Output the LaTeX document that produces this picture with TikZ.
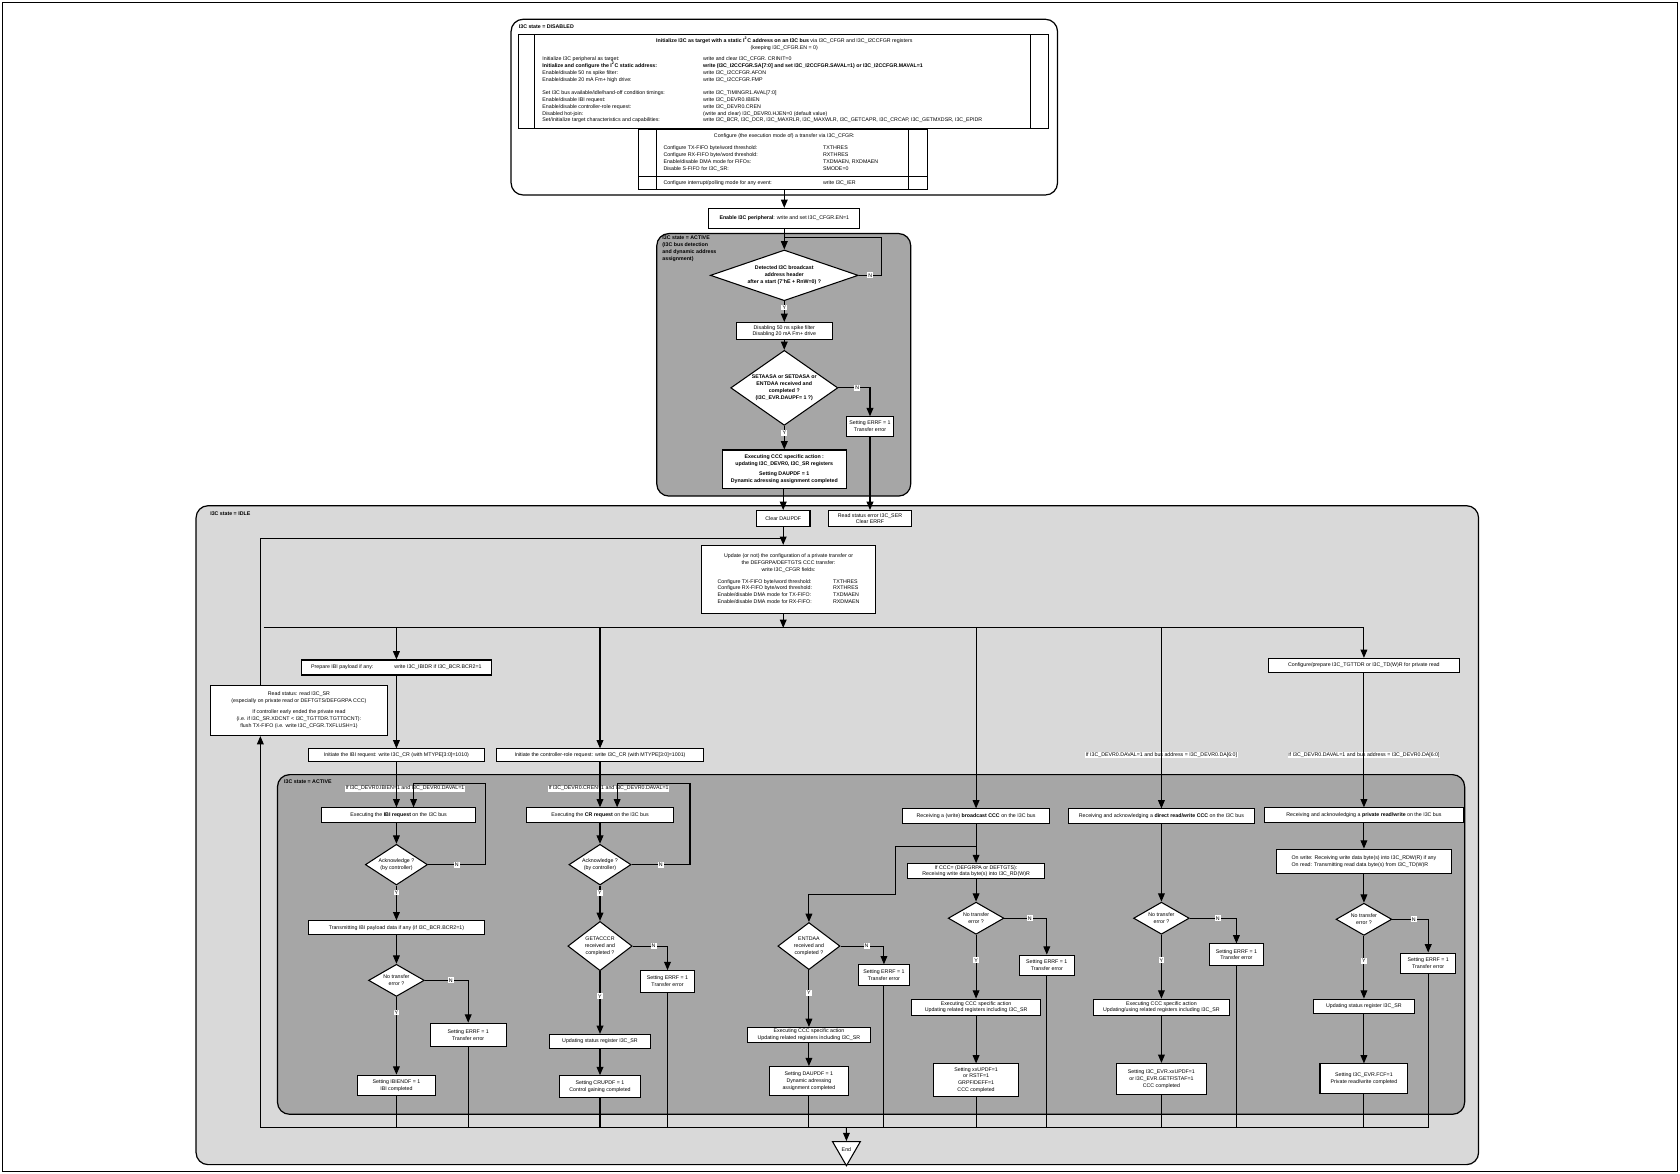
\documentclass[tikz,border=0pt]{standalone}
\usepackage{fontspec}
\setmainfont{Liberation Sans}
\usetikzlibrary{arrows.meta}
\usetikzlibrary{positioning}
\usetikzlibrary{shapes.geometric}
\newcommand{\pxl}{0.025cm}
\newcommand{\fs}{\fontsize{3.5}{4.5}\selectfont}
\definecolor{DarkState}{RGB}{166,166,166}
\definecolor{LightState}{RGB}{217,217,217}
\tikzset{
  sz/.style 2 args={minimum width=#1*\pxl, minimum height=#2*\pxl},
  box/.style={draw, fill=white, line width=.7pt, align=center, inner sep=.5pt, font=\fs},
  dia/.style={draw, fill=white, diamond, aspect=2, inner sep=-1pt, line width=.7pt, align=center, font=\fs},
  arr/.style={-{Triangle[length=5.5pt,width=4.5pt]}, line width=.7pt},
  ln/.style={line width=.7pt},
  yn/.style={fill=white, draw=white, inner sep=.4pt, font=\fs},
  lbl/.style={fill=white, inner sep=.4pt, font=\fs},
  txt/.style={inner sep=0pt, align=left, font=\fs},
  state/.style={rounded corners=8pt, line width=.8pt}
}
\begin{document}
\begin{tikzpicture}[x=\pxl, y=-\pxl]
  \useasboundingbox (0,0) rectangle (1568,1095);
  \draw[line width=.6pt] (2,2) rectangle (1566,1093);

  % disabled state with its two tables
  \draw[state, fill=white] (477,18) rectangle (987,182);
  \node[txt, anchor=west] (disabled) at (484,25) {\textbf{I3C state = DISABLED}};
  \draw[ln] (484,32) rectangle (979,120);
  \draw[ln] (499,32) -- (499,120);
  \draw[ln] (962,32) -- (962,120);
  \node[txt, align=center] (inittitle) at (732,41) {\textbf{Initialize I3C as target with a static I\textsuperscript{2}C address on an I3C bus} via I3C\_CFGR and I3C\_I2CCFGR registers\\(keeping I3C\_CFGR.EN = 0)};
  \node[txt, anchor=north west] (initleft) at (506,53) {Initialize I3C peripheral as target:\\\textbf{Initialize and configure the I\textsuperscript{2}C static address:}\\Enable/disable 50 ns spike filter:\\Enable/disable 20 mA Fm+ high drive:\\[4.5pt]Set I3C bus available/idle/hand-off condition timings:\\Enable/disable IBI request:\\Enable/disable controller-role request:\\Disabled hot-join:\\Set/initialize target characteristics and capabilities:};
  \node[txt, anchor=north west] (initright) at (656,53) {write and clear I3C\_CFGR. CRINIT=0\\\textbf{write (I3C\_I2CCFGR.SA[7:0] and set I3C\_I2CCFGR.SAVAL=1) or I3C\_I2CCFGR.MAVAL=1}\\write I3C\_I2CCFGR.AFON\\write I3C\_I2CCFGR.FMP\\[4.5pt]write I3C\_TIMINGR1.AVAL[7:0]\\write I3C\_DEVR0.IBIEN\\write I3C\_DEVR0.CREN\\(write and clear) I3C\_DEVR0.HJEN=0 (default value)\\write I3C\_BCR, I3C\_DCR, I3C\_MAXRLR, I3C\_MAXWLR, I3C\_GETCAPR, I3C\_CRCAP, I3C\_GETMXDSR, I3C\_EPIDR};
  \draw[ln] (596,121) rectangle (866,177);
  \draw[ln] (613,121) -- (613,177);
  \draw[ln] (848,121) -- (848,177);
  \draw[ln] (596,165) -- (866,165);
  \node[txt] (cfgtitle) at (732,127) {Configure (the execution mode of) a transfer via I3C\_CFGR:};
  \node[txt, anchor=north west] (cfgleft) at (619,136) {Configure TX-FIFO byte/word threshold:\\Configure RX-FIFO byte/word threshold:\\Enable/disable DMA mode for FIFOs:\\Disable S-FIFO for I3C\_SR:};
  \node[txt, anchor=north west] (cfgright) at (768,136) {TXTHRES\\RXTHRES\\TXDMAEN, RXDMAEN\\SMODE=0};
  \node[txt, anchor=west] (ierleft) at (619,171) {Configure interrupt/polling mode for any event:};
  \node[txt, anchor=west] (ierright) at (768,171) {write I3C\_IER};
  \coordinate (cfgout) at (732,177);

  \node[box, sz={141}{19}] (enable) at (732,204) {\textbf{Enable I3C peripheral}: write and set I3C\_CFGR.EN=1};
  \draw[arr] (cfgout) -- (enable.north);

  % active state: bus detection
  \draw[state, fill=DarkState] (613,218) rectangle (850,463);
  \node[txt, anchor=north west] (activelbl) at (618,220) {\textbf{I3C state = ACTIVE}\\\textbf{(I3C bus detection}\\\textbf{and dynamic address}\\\textbf{assignment)}};
  \node[dia, sz={138}{44}] (detect) at (732,257) {\textbf{Detected I3C broadcast}\\\textbf{address header}\\\textbf{after a start (7'hE + RnW=0) ?}};
  \node[box, sz={90}{16}] (spike) at (732,309) {Disabling 50 ns spike filter\\Disabling 20 mA Fm+ drive};
  \node[dia, sz={100}{70}] (daa) at (732,362) {\textbf{SETAASA or SETDASA or}\\\textbf{ENTDAA received and}\\\textbf{completed ?}\\\textbf{(I3C\_EVR.DAUPF= 1 ?)}};
  \node[box, sz={43}{18}] (errdaa) at (812,398) {Setting ERRF = 1\\Transfer error};
  \node[box, sz={116}{36}] (execdaa) at (732,438) {\textbf{Executing CCC specific action :}\\\textbf{updating I3C\_DEVR0, I3C\_SR registers}\\[2pt]\textbf{Setting DAUPDF = 1}\\\textbf{Dynamic adressing assignment completed}};
  \draw[arr] (enable.south) -- (detect.north);
  \draw[ln] (detect.east) -- node[yn]{N} (823,257) |- (732,222);
  \draw[arr] (detect.south) -- node[yn, pos=.3]{Y} (spike.north);
  \draw[arr] (spike.south) -- (daa.north);
  \draw[arr] (daa.east) -| node[yn, pos=.3]{N} (errdaa.north);
  \draw[arr] (daa.south) -- node[yn, pos=.3]{Y} (execdaa.north);

  % idle state
  \draw[state, fill=LightState] (183,472) rectangle (1380,1087);
  \node[txt, anchor=west] (idlelbl) at (196,479) {\textbf{I3C state = IDLE}};
  \node[box, sz={50}{15}] (clrdaupdf) at (731,484) {Clear DAUPDF};
  \node[box, sz={78}{15}] (readser) at (812,484) {Read status error I3C\_SER\\Clear ERRF};
  \draw[arr] (execdaa.south -| clrdaupdf) -- (clrdaupdf.north);
  \draw[arr] (errdaa.south) -- (readser.north);
  \node[box, sz={162}{64}] (update) at (736,541) {Update (or not) the configuration of a private transfer or\\the DEFGRPA/DEFTGTS CCC transfer:\\write I3C\_CFGR fields:\\[3pt]\begin{tabular}{@{}l@{\hspace{14pt}}l@{}}Configure TX-FIFO byte/word threshold: & TXTHRES\\Configure RX-FIFO byte/word threshold: & RXTHRES\\Enable/disable DMA mode for TX-FIFO: & TXDMAEN\\Enable/disable DMA mode for RX-FIFO: & RXDMAEN\end{tabular}};
  \node[box, sz={165}{47}] (readsr) at (279,663) {Read status: read I3C\_SR\\(especially on private read or DEFTGTS/DEFGRPA CCC)\\[3pt]If controller early ended the private read\\(i.e. if I3C\_SR.XDCNT {\textless} I3C\_TGTTDR.TGTTDCNT):\\flush TX-FIFO (i.e. write I3C\_CFGR.TXFLUSH=1)};
  \coordinate (loopjoin) at (731,503);
  \coordinate (fanl) at (246,586);
  \coordinate (fanr) at (1273,586);
  \coordinate (endl) at (243,1052);
  \coordinate (endr) at (1334,1052);
  \draw[arr] (clrdaupdf.south) -- (clrdaupdf.south |- update.north);
  \draw[ln] (readsr.north -| endl) |- (loopjoin);
  \draw[arr] (update.south -| clrdaupdf) -- (fanl -| clrdaupdf);
  \draw[ln] (fanl) -- (fanr);

  \node[box, sz={178}{14}] (prepibi) at (370,623) {Prepare IBI payload if any:\hspace{14pt}write I3C\_IBIDR if I3C\_BCR.BCR2=1};
  \node[box, sz={164}{12}] (initibi) at (370,705) {Initiate the IBI request: write I3C\_CR (with MTYPE[3:0]=1010)};
  \node[box, sz={194}{12}] (initcr) at (560,705) {Initiate the controller-role request: write I3C\_CR (with MTYPE[3:0]=1001)};
  \node[box, sz={179}{13}] (prepread) at (1273,621) {Configure/prepare I3C\_TGTTDR or I3C\_TD(W)R for private read};

  % active state: transfers
  \draw[state, fill=DarkState] (259,723) rectangle (1367,1040);
  \node[txt, anchor=west] (active2lbl) at (265,730) {\textbf{I3C state = ACTIVE}};
  \node[lbl] (condibi) at (378,736) {If I3C\_DEVR0.IBIEN=1 and I3C\_DEVR0.DAVAL=1};
  \node[lbl] (condcr) at (568,736) {If I3C\_DEVR0.CREN=1 and I3C\_DEVR0.DAVAL=1};
  \node[lbl] (conddir) at (1084,705) {If I3C\_DEVR0.DAVAL=1 and bus address = I3C\_DEVR0.DA[6:0]};
  \node[lbl] (condpriv) at (1273,705) {If I3C\_DEVR0.DAVAL=1 and bus address = I3C\_DEVR0.DA[6:0]};

  % IBI request
  \node[box, sz={144}{14}] (execibi) at (372,761) {Executing the \textbf{IBI request} on the I3C bus};
  \node[dia, sz={58}{38}] (ackibi) at (370,807) {Acknowledge ?\\(by controller)};
  \node[box, sz={164}{13}] (txibi) at (370,866) {Transmitting IBI payload data if any (if I3C\_BCR.BCR2=1)};
  \node[dia, sz={52}{30}] (okibi) at (370,915) {No transfer\\error ?};
  \node[box, sz={71}{22}] (erribi) at (437,966) {Setting ERRF = 1\\Transfer error};
  \node[box, sz={73}{19}] (doneibi) at (370,1013) {Setting IBIENDF = 1\\IBI completed};
  \draw[arr] (fanl -| prepibi) -- (prepibi.north);
  \draw[arr] (prepibi.south) -- (initibi.north);
  \draw[arr] (initibi.south) -- (initibi.south |- execibi.north);
  \draw[arr] (ackibi.east) -- node[yn]{N} (453,807) -- (453,731) -- (386,731) -- (execibi.north -| 386,0);
  \draw[arr] (ackibi |- execibi.south) -- (ackibi.north);
  \draw[arr] (ackibi.south) -- node[yn, pos=.2]{Y} (txibi.north);
  \draw[arr] (txibi.south) -- (okibi.north);
  \draw[arr] (okibi.east) -| node[yn, pos=.3]{N} (erribi.north);
  \draw[arr] (okibi.south) -- node[yn, pos=.2]{Y} (doneibi.north);
  \draw[ln] (doneibi.south) -- (doneibi.south |- endl);
  \draw[ln] (erribi.south) -- (erribi.south |- endl);

  % controller-role request
  \node[box, sz={138}{14}] (execcr) at (560,761) {Executing the \textbf{CR request} on the I3C bus};
  \node[dia, sz={58}{38}] (ackcr) at (560,807) {Acknowledge ?\\(by controller)};
  \node[dia, sz={60}{46}] (getacccr) at (560,883) {GETACCCR\\received and\\completed ?};
  \node[box, sz={50}{20}] (errcr) at (623,916) {Setting ERRF = 1\\Transfer error};
  \node[box, sz={95}{13}] (statcr) at (560,972) {Updating status register I3C\_SR};
  \node[box, sz={75}{20}] (donecr) at (560,1014) {Setting CRUPDF = 1\\Control gaining completed};
  \draw[arr] (fanl -| initcr) -- (initcr.north);
  \draw[arr] (initcr.south) -- (execcr.north);
  \draw[arr] (ackcr.east) -- node[yn]{N} (644,807) -- (644,731) -- (576,731) -- (execcr.north -| 576,0);
  \draw[arr] (execcr.south) -- (ackcr.north);
  \draw[arr] (ackcr.south) -- node[yn, pos=.2]{Y} (getacccr.north);
  \draw[arr] (getacccr.east) -| node[yn, pos=.3]{N} (errcr.north);
  \draw[arr] (getacccr.south) -- node[yn, pos=.4]{Y} (statcr.north);
  \draw[arr] (statcr.south) -- (donecr.north);
  \draw[ln] (donecr.south) -- (donecr.south |- endl);
  \draw[ln] (errcr.south) -- (errcr.south |- endl);

  % broadcast CCC
  \node[box, sz={137}{14}] (bcast) at (911,762) {Receiving a (write) \textbf{broadcast CCC} on the I3C bus};
  \node[box, sz={128}{14}] (defccc) at (911,813) {If CCC= (DEFGRPA or DEFTGTS):\\Receiving write data byte(s) into I3C\_RD(W)R};
  \node[dia, sz={52}{30}] (okbc) at (911,857) {No transfer\\error ?};
  \node[box, sz={51}{19}] (errbc) at (977,901) {Setting ERRF = 1\\Transfer error};
  \node[box, sz={120}{15}] (execbc) at (911,940) {Executing CCC specific action\\Updating related registers including I3C\_SR};
  \node[box, sz={79}{30}] (donebc) at (911,1008) {Setting xxUPDF=1\\or RSTF=1\\GRPF/DEFF=1\\CCC completed};
  \node[dia, sz={58}{44}] (entdaa) at (755,883) {ENTDAA\\received and\\completed ?};
  \node[box, sz={48}{19}] (errent) at (825,910) {Setting ERRF = 1\\Transfer error};
  \node[box, sz={115}{14}] (execent) at (755,966) {Executing CCC specific action\\Updating related registers including I3C\_SR};
  \node[box, sz={73}{27}] (doneent) at (755,1009) {Setting DAUPDF = 1\\Dynamic adressing\\assignment completed};
  \draw[arr] (fanl -| bcast) -- (bcast.north);
  \draw[arr] (bcast.south) -- (defccc.north);
  \draw[arr] (bcast.south) |- (836,790) |- (755,835) -- (entdaa.north);
  \draw[arr] (defccc.south) -- (okbc.north);
  \draw[arr] (okbc.east) -| node[yn, pos=.3]{N} (errbc.north);
  \draw[arr] (okbc.south) -- node[yn, pos=.4]{Y} (execbc.north);
  \draw[arr] (execbc.south) -- (donebc.north);
  \draw[arr] (entdaa.east) -| node[yn, pos=.3]{N} (errent.north);
  \draw[arr] (entdaa.south) -- node[yn, pos=.4]{Y} (execent.north);
  \draw[arr] (execent.south) -- (doneent.north);
  \draw[ln] (donebc.south) -- (donebc.south |- endl);
  \draw[ln] (errbc.south) -- (errbc.south |- endl);
  \draw[ln] (doneent.south) -- (doneent.south |- endl);
  \draw[ln] (errent.south) -- (errent.south |- endl);

  % direct CCC
  \node[box, sz={173}{14}] (direct) at (1084,762) {Receiving and acknowledging a \textbf{direct read/write CCC} on the I3C bus};
  \node[dia, sz={52}{30}] (okdir) at (1084,857) {No transfer\\error ?};
  \node[box, sz={50}{20}] (errdir) at (1154,891) {Setting ERRF = 1\\Transfer error};
  \node[box, sz={127}{15}] (execdir) at (1084,940) {Executing CCC specific action\\Updating/using related registers including I3C\_SR};
  \node[box, sz={84}{29}] (donedir) at (1084,1007) {Setting I3C\_EVR.xxUPDF=1\\or I3C\_EVR.GETF/STAF=1\\CCC completed};
  \draw[arr] (fanl -| direct) -- (direct.north);
  \draw[arr] (direct.south) -- (okdir.north);
  \draw[arr] (okdir.east) -| node[yn, pos=.3]{N} (errdir.north);
  \draw[arr] (okdir.south) -- node[yn, pos=.4]{Y} (execdir.north);
  \draw[arr] (execdir.south) -- (donedir.north);
  \draw[ln] (donedir.south) -- (donedir.south |- endl);
  \draw[ln] (errdir.south) -- (errdir.south |- endl);

  % private read/write
  \node[box, sz={186}{14}] (private) at (1273,761) {Receiving and acknowledging a \textbf{private read/write} on the I3C bus};
  \node[box, sz={164}{23}, align=left] (rwdata) at (1273,804) {On write: Receiving write data byte(s) into I3C\_RDW(R) if any\\On read: Transmitting read data byte(s) from I3C\_TD(W)R};
  \node[dia, sz={52}{30}] (okpriv) at (1273,858) {No transfer\\error ?};
  \node[box, sz={51}{19}] (errpriv) at (1333,899) {Setting ERRF = 1\\Transfer error};
  \node[box, sz={95}{13}] (statpriv) at (1273,939) {Updating status register I3C\_SR};
  \node[box, sz={82}{28}] (donepriv) at (1273,1007) {Setting I3C\_EVR.FCF=1\\Private read/write completed};
  \draw[arr] (fanr) -- (prepread.north);
  \draw[arr] (prepread.south) -- (private.north);
  \draw[arr] (private.south) -- (rwdata.north);
  \draw[arr] (rwdata.south) -- (okpriv.north);
  \draw[arr] (okpriv.east) -| node[yn, pos=.3]{N} (errpriv.north);
  \draw[arr] (okpriv.south) -- node[yn, pos=.4]{Y} (statpriv.north);
  \draw[arr] (statpriv.south) -- (donepriv.north);
  \draw[ln] (donepriv.south) -- (donepriv.south |- endl);
  \draw[ln] (errpriv.south) -- (errpriv.south |- endl);

  % end of transfers
  \draw[ln] (endr) -- (endl);
  \draw[arr] (endl) -- (readsr.south -| endl);
  \node[draw, fill=white, line width=.7pt, regular polygon, regular polygon sides=3, shape border rotate=180, inner sep=0pt, minimum size=30*\pxl, font=\fs] (finish) at (790,1073) {End};
  \draw[arr] (endl -| finish) -- (finish.north);
\end{tikzpicture}
\end{document}
